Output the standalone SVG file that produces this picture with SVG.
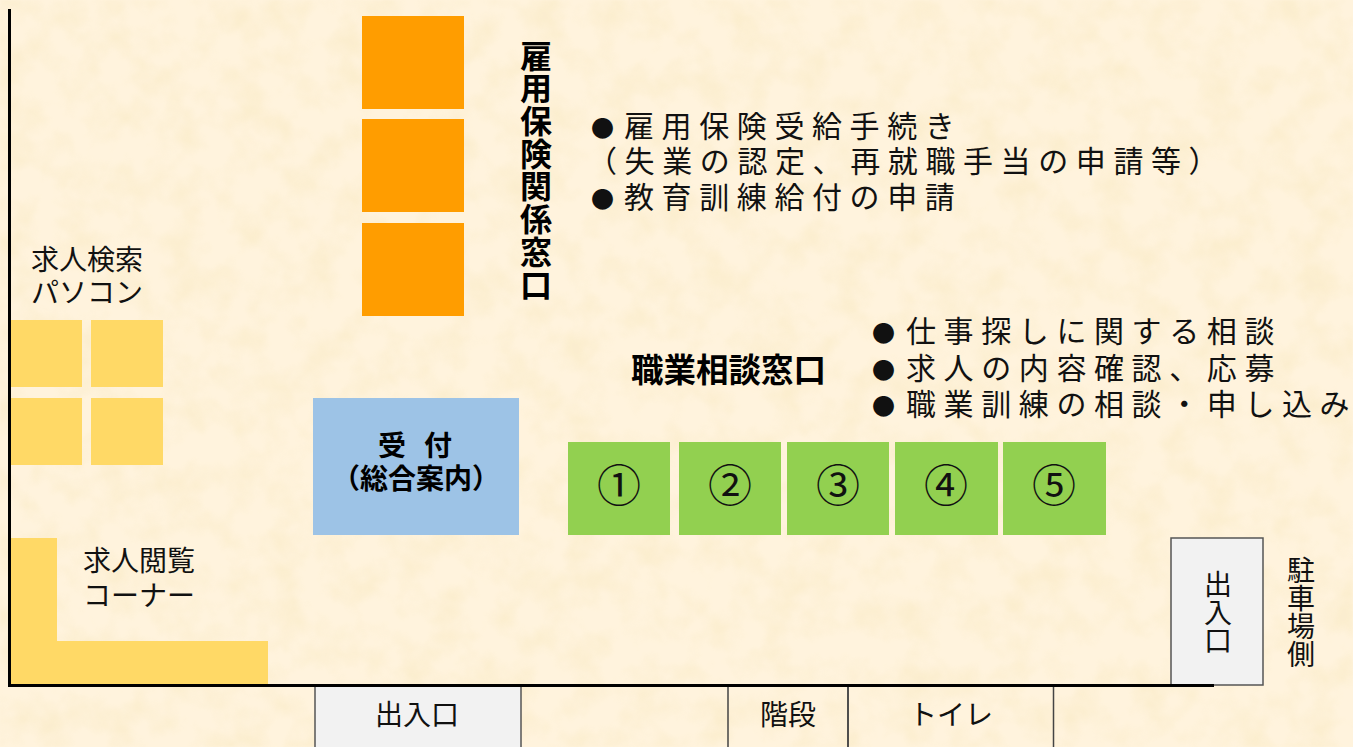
<svg xmlns="http://www.w3.org/2000/svg" width="1353" height="747" viewBox="0 0 1353 747">
<style>
text{font-family:"Noto Sans CJK JP","Noto Sans CJK SC",sans-serif;fill:#111}
.t{font-size:28px}
.v{writing-mode:vertical-rl;text-orientation:upright}
.s{font-size:30px;letter-spacing:7.6px}
.d{font-size:23px;letter-spacing:0}
.e{letter-spacing:0}
.b{font-weight:700;font-size:32px;fill:#000}
.bl{font-size:32.500px}
.vb{letter-spacing:.7px}
.b2{font-weight:700;font-size:28px;fill:#000}
.n{font-size:44px}
.m{text-anchor:middle}
.door{fill:#f2f2f2;stroke:#555;stroke-width:1.5}
.open{fill:none;stroke:#444;stroke-width:1.5}
.or{fill:#ff9d00}.ye{fill:#ffd966}.gr{fill:#92d050}
.wall{fill:none;stroke:#000;stroke-width:3}
</style>
<defs>
<filter id="paper" x="0" y="0" width="100%" height="100%">
<feTurbulence type="fractalNoise" baseFrequency="0.03" numOctaves="4" seed="7"/>
<feColorMatrix values="0 0 0 0 0.93  0 0 0 0 0.80  0 0 0 0 0.50  2.4 0 0 0 -0.95"/>
<feGaussianBlur stdDeviation="1.2"/>
</filter>
</defs>
<rect width="1353" height="747" fill="#fff3dd"/>
<rect width="1353" height="747" filter="url(#paper)" opacity="0.42"/>

<g id="doors-bottom">
<rect class="door" x="315" y="686" width="206" height="70"/>
<rect class="open" x="728" y="686" width="120" height="70"/>
<rect class="open" x="848" y="686" width="205.500" height="70"/>
</g>
<g id="door-side"><rect class="door" x="1171" y="538" width="92" height="147"/>
<text class="t v" x="1218" y="570">出入口</text></g>

<g id="connectors"><path class="wall" d="M9.500 9V685.500H1214"/></g>

<g id="koyo-desks">
<rect class="or" x="362" y="16" width="102" height="93"/>
<rect class="or" x="362" y="119" width="102" height="93"/>
<rect class="or" x="362" y="223" width="102" height="93"/>
</g>
<g id="koyo-label"><text class="b v vb" x="536" y="39.500">雇用保険関係窓口</text></g>
<g id="koyo-notes">
<text class="s" y="136.500"><tspan class="d" x="591">●</tspan><tspan x="624">雇用保険受給手続き</tspan></text>
<text class="s" x="587" y="172">（失業の認定、再就職手当の申請等）</text>
<text class="s" y="208"><tspan class="d" x="591">●</tspan><tspan x="624">教育訓練給付の申請</tspan></text>
</g>

<g id="pc">
<text class="t" x="31" y="270">求人検索</text>
<text class="t" x="31" y="303">パソコン</text>
<rect class="ye" x="11" y="320" width="71" height="67"/>
<rect class="ye" x="91" y="320" width="72" height="67"/>
<rect class="ye" x="11" y="398" width="71" height="67"/>
<rect class="ye" x="91" y="398" width="72" height="67"/>
</g>

<g id="reception">
<rect x="313" y="398" width="206" height="137" fill="#9dc3e6"/>
<text class="b2 m" x="392" y="456">受</text><text class="b2 m" x="438" y="456">付</text>
<text class="b2 m" x="416" y="489">（総合案内）</text>
</g>

<g id="shokugyo-label"><text class="b bl" x="631" y="382">職業相談窓口</text></g>
<g id="shokugyo-notes">
<text class="s" y="341.500"><tspan class="d" x="872">●</tspan><tspan x="906">仕事探しに関する相談</tspan></text>
<text class="s" y="379"><tspan class="d" x="872">●</tspan><tspan x="906">求人の内容確認、応募</tspan></text>
<text class="s" y="415"><tspan class="d" x="872">●</tspan><tspan x="906">職業訓練の相談・申し込</tspan><tspan class="e">み</tspan></text>
</g>
<g id="w1"><rect class="gr" x="568" y="442" width="102" height="93"/><text class="m n" x="619" y="502">①</text></g>
<g id="w2"><rect class="gr" x="679" y="442" width="102" height="93"/><text class="m n" x="730" y="502">②</text></g>
<g id="w3"><rect class="gr" x="787" y="442" width="102" height="93"/><text class="m n" x="838" y="502">③</text></g>
<g id="w4"><rect class="gr" x="895" y="442" width="103" height="93"/><text class="m n" x="946" y="502">④</text></g>
<g id="w5"><rect class="gr" x="1003" y="442" width="103" height="93"/><text class="m n" x="1054" y="502">⑤</text></g>

<g id="etsuran">
<path class="ye" d="M11 538H57V641H268V684H11Z"/>
<text class="t" x="83" y="571">求人閲覧</text>
<text class="t" x="83" y="606">コーナー</text>
</g>
<g id="labels-bottom">
<text class="t m" x="417" y="725">出入口</text>
<text class="t m" x="788" y="725">階段</text>
<text class="t m" x="951" y="725">トイレ</text>
</g>
<g id="parking"><text class="t v" x="1301" y="556">駐車場側</text></g>
</svg>
